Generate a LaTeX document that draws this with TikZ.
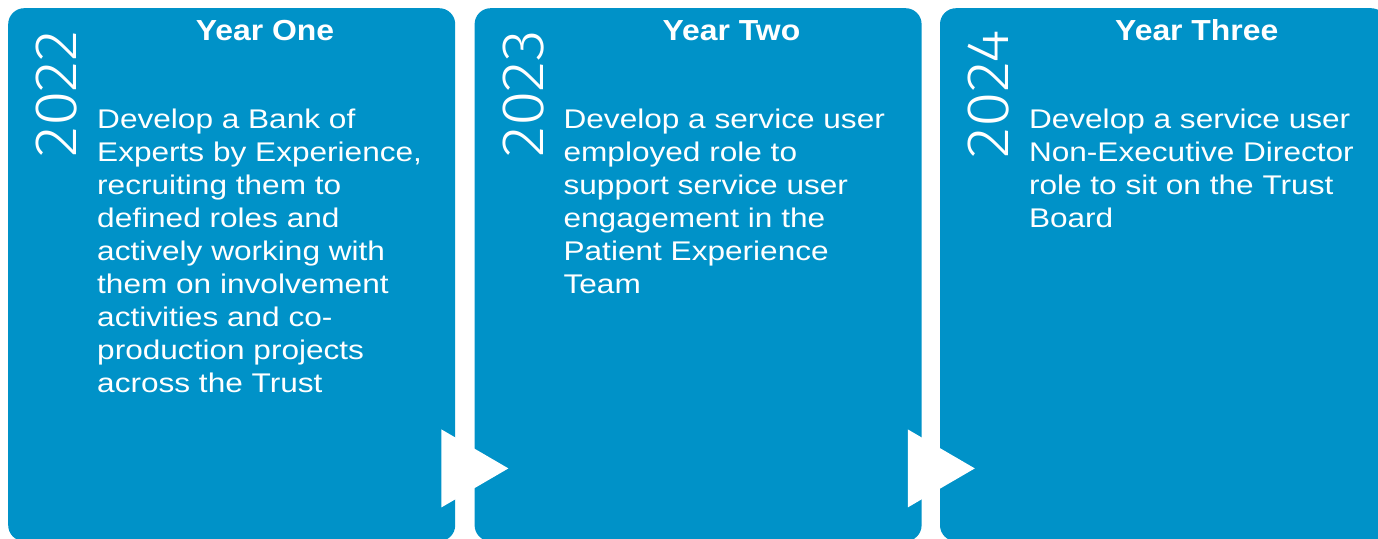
\documentclass[tikz,border=0pt]{standalone}
\usepackage{fontspec}
\setmainfont{Liberation Sans}
\newfontfamily\bodyfont{Liberation Sans}[FakeStretch=1.17]
\newfontfamily\titlefont{Liberation Sans}[FakeStretch=1.1]
\newfontfamily\yearfont{Fira Sans Light}[FakeStretch=1.08]
\usetikzlibrary{positioning,calc}
\definecolor{panelblue}{RGB}{0,146,200}
\tikzset{
  panel/.style={fill=panelblue,rounded corners=16pt,inner sep=0pt,
    minimum width=447pt,minimum height=533pt},
  yearlabel/.style={text=white,inner sep=0pt,rotate=90,
    font=\yearfont\fontsize{60}{60}\selectfont},
  paneltitle/.style={text=white,inner sep=0pt,
    font=\titlefont\bfseries\fontsize{29}{33}\selectfont},
  paneltext/.style={text=white,inner sep=0pt,align=left,
    font=\bodyfont\fontsize{27}{33}\selectfont}
}
\def\panel#1#2#3#4{
  \node[yearlabel] (#1year) at ($(#1.north west)+(49pt,-86pt)$) {#2};
  \node[paneltitle,anchor=base] (#1title) at ($(#1.north west)+(257pt,-32pt)$) {#3};
  \node[paneltext,anchor=north west] (#1text) at ($(#1.north west)+(89pt,-101pt)$) {#4};
}
\def\pointer#1{
  \fill[white] ($(#1.south east)+(-14pt,112pt)$) -- ($(#1.south east)+(-14pt,34pt)$)
    -- ($(#1.south east)+(53pt,73pt)$) -- cycle;
}
\begin{document}
\begin{tikzpicture}
\useasboundingbox (0,0) rectangle (1378pt,-538pt);
\node[panel,anchor=north west] (one) at (8pt,-8pt) {};
\node[panel,right=19pt of one] (two) {};
\node[panel,right=18pt of two] (three) {};
\panel{one}{2022}{Year One}{Develop a Bank of\\Experts by Experience,\\recruiting them to\\defined roles and\\actively working with\\them on involvement\\activities and co-\\production projects\\across the Trust}
\panel{two}{2023}{Year Two}{Develop a service user\\employed role to\\support service user\\engagement in the\\Patient Experience\\Team}
\panel{three}{2024}{Year Three}{Develop a service user\\Non-Executive Director\\role to sit on the Trust\\Board}
\pointer{one}
\pointer{two}
\end{tikzpicture}
\end{document}
